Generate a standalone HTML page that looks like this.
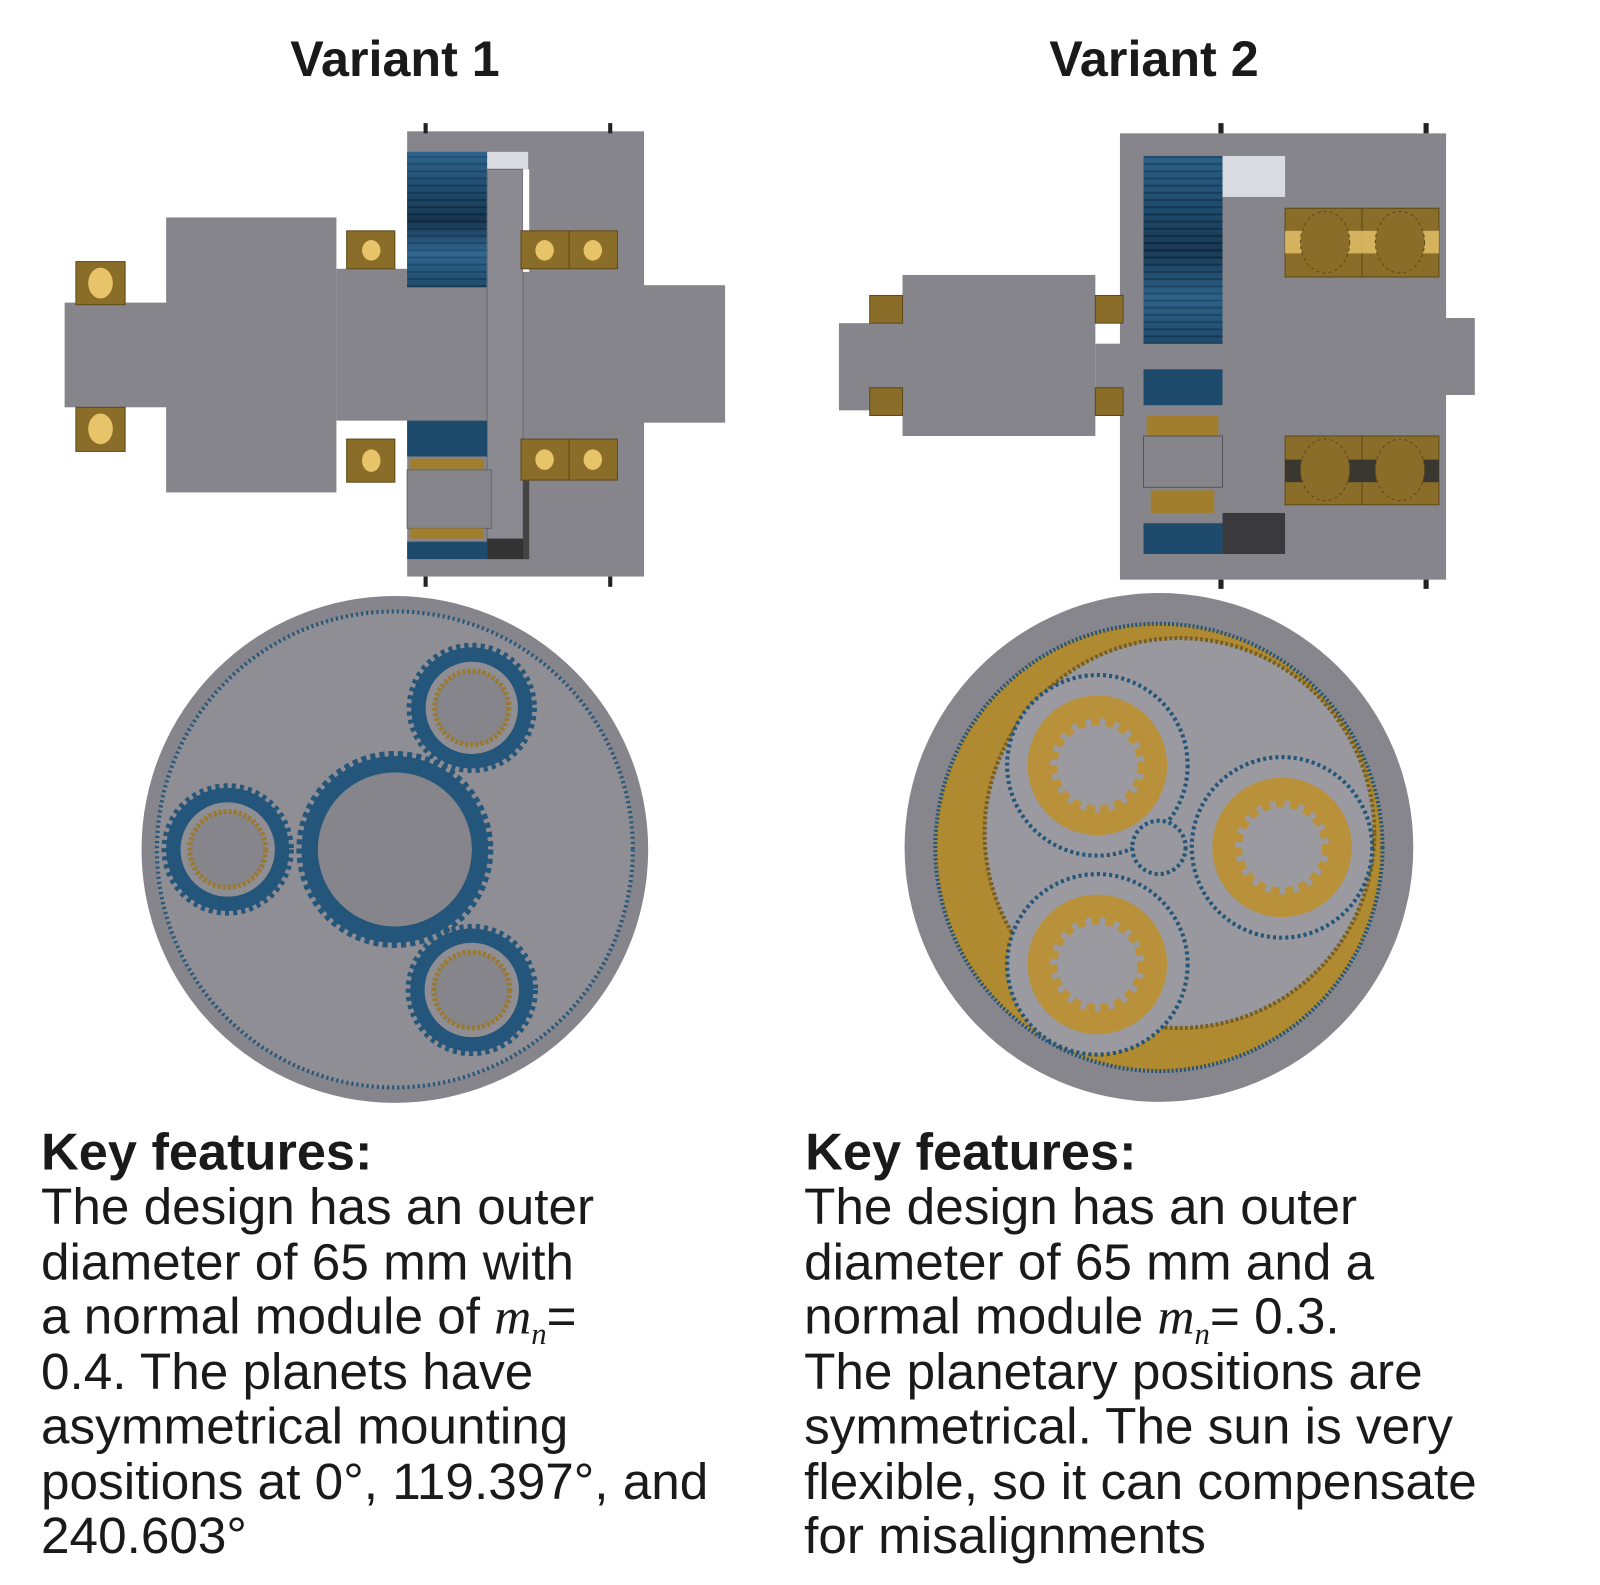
<!DOCTYPE html>
<html><head><meta charset="utf-8"><style>
html,body{margin:0;padding:0;background:#fff;width:1600px;height:1585px;overflow:hidden}
#w{position:absolute;left:0;top:0;width:1560px;height:1545px;transform:scale(1.0256,1.0259);transform-origin:0 0}
.t{position:absolute;font-family:"Liberation Sans",sans-serif;color:#1a1a1a}
.h{font-weight:bold;font-size:49px}
.p{font-size:50px;line-height:53.5px;white-space:pre}
.s{font-size:30px;position:relative;top:10px;line-height:0}
</style></head><body><div id="w">
<svg width="1560" height="1545" style="position:absolute;left:0;top:0">
<defs>
<linearGradient id="bl" x1="0" y1="0" x2="0" y2="1">
<stop offset="0" stop-color="#3a7aa8"/><stop offset=".3" stop-color="#1d4a6c"/><stop offset=".5" stop-color="#10273c"/><stop offset=".75" stop-color="#3f7fae"/><stop offset="1" stop-color="#1d4a6c"/></linearGradient>
<pattern id="str" width="10" height="7" patternUnits="userSpaceOnUse"><rect width="10" height="7" fill="#1e4a6c"/><rect y="5" width="10" height="2" fill="#0f2538"/></pattern>
</defs>
<g fill="#85858b">
<rect x="397" y="128" width="231" height="434"/>
<rect x="63" y="295" width="110" height="102"/>
<rect x="162" y="212" width="166" height="268"/>
<rect x="328" y="262" width="150" height="148"/>
<rect x="475" y="278" width="232" height="134"/>
</g>
<rect x="397" y="148" width="78" height="132" fill="url(#str)"/>
<rect x="397" y="148" width="78" height="132" fill="url(#bl)" opacity=".55"/>
<rect x="475" y="148" width="40" height="17" fill="#d8dbe0"/>
<rect x="475" y="165" width="35" height="375" fill="#8a8a90" stroke="#6a6a70"/>
<rect x="510" y="165" width="6" height="100" fill="#fff"/>
<rect x="397" y="410" width="78" height="35" fill="#1e4a6c"/>
<rect x="400" y="447" width="72" height="10" fill="#a07e2e"/>
<rect x="397" y="458" width="82" height="57" fill="#85858b" stroke="#666"/>
<rect x="400" y="515" width="72" height="10" fill="#a07e2e"/>
<rect x="397" y="528" width="78" height="17" fill="#1e4a6c"/>
<rect x="475" y="525" width="40" height="20" fill="#333"/>
<rect x="510" y="440" width="6" height="105" fill="#444"/>
<g fill="#8a6d28" stroke="#5e4a18">
<rect x="74" y="255" width="48" height="42"/><rect x="74" y="397" width="48" height="43"/>
<rect x="338" y="225" width="47" height="37"/><rect x="338" y="428" width="47" height="42"/>
<rect x="508" y="225" width="47" height="37"/><rect x="555" y="225" width="47" height="37"/>
<rect x="508" y="428" width="47" height="40"/><rect x="555" y="428" width="47" height="40"/>
</g>
<g fill="#e7c36a"><ellipse cx="98" cy="276" rx="12" ry="15"/><ellipse cx="98" cy="418" rx="12" ry="15"/>
<ellipse cx="362" cy="244" rx="9" ry="10"/><ellipse cx="362" cy="449" rx="9" ry="11"/>
<ellipse cx="531" cy="244" rx="9" ry="10"/><ellipse cx="578" cy="244" rx="9" ry="10"/>
<ellipse cx="531" cy="448" rx="9" ry="10"/><ellipse cx="578" cy="448" rx="9" ry="10"/></g>
<g fill="#222"><rect x="413" y="120" width="4" height="10"/><rect x="593" y="120" width="4" height="10"/><rect x="413" y="562" width="4" height="10"/><rect x="593" y="562" width="4" height="10"/></g>

<g fill="#85858b">
<rect x="1092" y="130" width="318" height="435"/>
<rect x="818" y="315" width="70" height="85"/>
<rect x="880" y="268" width="188" height="157"/>
<rect x="1068" y="335" width="130" height="45"/>
<rect x="1400" y="310" width="38" height="75"/>
</g>
<rect x="1115" y="152" width="77" height="183" fill="url(#str)"/>
<rect x="1115" y="152" width="77" height="183" fill="url(#bl)" opacity=".45"/>
<rect x="1192" y="152" width="61" height="40" fill="#d8dbe0"/>
<rect x="1115" y="360" width="77" height="35" fill="#1e4a6c"/>
<rect x="1118" y="405" width="70" height="20" fill="#a07e2e"/>
<rect x="1115" y="425" width="77" height="50" fill="#85858b" stroke="#555"/>
<rect x="1122" y="478" width="62" height="22" fill="#a07e2e"/>
<rect x="1115" y="510" width="77" height="30" fill="#1e4a6c"/>
<rect x="1192" y="500" width="61" height="40" fill="#3a3a3e"/>
<g fill="#8a6d28" stroke="#5e4a18">
<rect x="848" y="288" width="32" height="27"/><rect x="848" y="378" width="32" height="27"/>
<rect x="1068" y="288" width="27" height="27"/><rect x="1068" y="378" width="27" height="27"/>
<rect x="1253" y="203" width="75" height="67"/><rect x="1328" y="203" width="75" height="67"/>
<rect x="1253" y="425" width="75" height="67"/><rect x="1328" y="425" width="75" height="67"/>
</g>
<rect x="1253" y="225" width="150" height="22" fill="#e7c36a" opacity=".8"/>
<rect x="1253" y="448" width="150" height="22" fill="#3a3630"/>
<g fill="#8a6d28" stroke="#5e4a18" stroke-dasharray="3 3"><ellipse cx="1292" cy="236" rx="24" ry="30"/><ellipse cx="1365" cy="236" rx="24" ry="30"/><ellipse cx="1292" cy="458" rx="24" ry="30"/><ellipse cx="1365" cy="458" rx="24" ry="30"/></g>
<g fill="#222"><rect x="1188" y="120" width="5" height="10"/><rect x="1388" y="120" width="5" height="10"/><rect x="1188" y="565" width="5" height="9"/><rect x="1388" y="565" width="5" height="9"/></g>

<circle cx="385" cy="828" r="247" fill="#85858b"/>
<circle cx="385" cy="828" r="232" fill="#8e8e94" stroke="#24557a" stroke-width="4" stroke-dasharray="2 3"/>
<g stroke="#24557a" fill="none">
<circle cx="385" cy="828" r="83" stroke-width="16" />
<circle cx="385" cy="828" r="93" stroke-width="6" stroke-dasharray="5 4"/>
<circle cx="460" cy="690" r="52" stroke-width="14"/><circle cx="460" cy="690" r="61" stroke-width="5" stroke-dasharray="4 4"/>
<circle cx="222" cy="828" r="53" stroke-width="14"/><circle cx="222" cy="828" r="62" stroke-width="5" stroke-dasharray="4 4"/>
<circle cx="460" cy="965" r="53" stroke-width="14"/><circle cx="460" cy="965" r="62" stroke-width="5" stroke-dasharray="4 4"/>
</g>
<circle cx="385" cy="828" r="75" fill="#85858b"/>
<g fill="#85858b" stroke="#9a7a30" stroke-width="5" stroke-dasharray="3 2"><circle cx="460" cy="690" r="36"/><circle cx="222" cy="828" r="37"/><circle cx="460" cy="965" r="37"/></g>

<circle cx="1130" cy="826" r="248" fill="#86868c"/>
<circle cx="1130" cy="826" r="218" fill="#b08a30" stroke="#24557a" stroke-width="4" stroke-dasharray="2 2"/>
<circle cx="1150" cy="812" r="190" fill="#98989e" stroke="#7a6020" stroke-width="4" stroke-dasharray="3 2"/>
<g fill="#9a9aa0" stroke="#24557a" stroke-width="4" stroke-dasharray="3 3">
<circle cx="1070" cy="746" r="88"/><circle cx="1250" cy="826" r="88"/><circle cx="1070" cy="940" r="88"/>
<circle cx="1130" cy="826" r="26" fill="#98989e"/>
</g>
<g fill="#b8913a"><circle cx="1070" cy="746" r="68"/><circle cx="1250" cy="826" r="68"/><circle cx="1070" cy="940" r="68"/></g>
<g fill="#9a9aa0" stroke="#b8913a" stroke-width="14" stroke-dasharray="9 6"><circle cx="1070" cy="746" r="46"/><circle cx="1250" cy="826" r="46"/><circle cx="1070" cy="940" r="46"/></g>
</svg>
<div class="t h" style="left:283px;top:30px">Variant 1</div>
<div class="t h" style="left:1023px;top:30px">Variant 2</div>
<div class="t h" style="left:40px;top:1093px;font-size:51px">Key features:</div>
<div class="t h" style="left:785px;top:1093px;font-size:51px">Key features:</div>
<div class="t p" style="left:40px;top:1150px">The design has an outer
diameter of 65 mm with
a normal module of <i style="font-family:'Liberation Serif',serif">m<span class="s">n</span></i>=
0.4. The planets have
asymmetrical mounting
positions at 0°, 119.397°, and
240.603°</div>
<div class="t p" style="left:784px;top:1150px">The design has an outer
diameter of 65 mm and a
normal module <i style="font-family:'Liberation Serif',serif">m<span class="s">n</span></i>= 0.3.
The planetary positions are
symmetrical. The sun is very
flexible, so it can compensate
for misalignments</div>
</div></body></html>
